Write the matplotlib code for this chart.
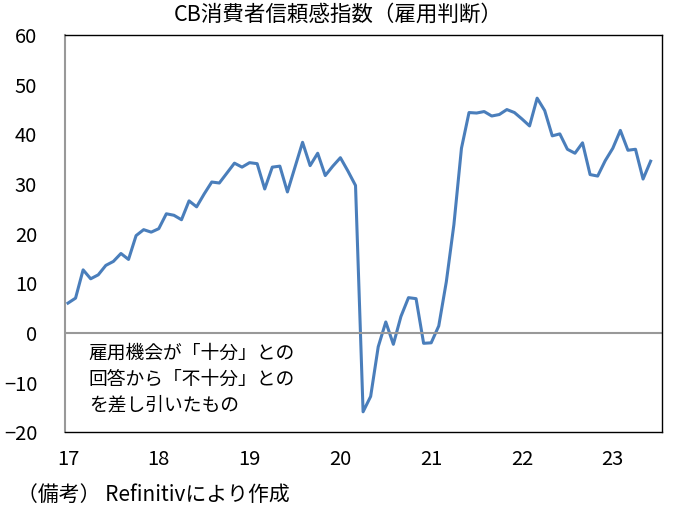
import matplotlib
matplotlib.use("Agg")
import matplotlib.pyplot as plt
import numpy as np

plt.rcParams['font.family'] = ['Noto Sans CJK JP', 'DejaVu Sans']

# CB consumer confidence, labor differential, monthly Jan 2017 - Jun 2023
values_2017 = [6.0, 7.0, 12.7, 10.9, 11.7, 13.6, 14.4, 16.0, 14.8, 19.6, 20.8, 20.3]
values_2018 = [21.0, 24.0, 23.7, 22.8, 26.6, 25.4, 28.0, 30.4, 30.2, 32.2, 34.2, 33.4]
values_2019 = [34.3, 34.1, 29.0, 33.4, 33.6, 28.4, 33.4, 38.4, 33.7, 36.2, 31.7, 33.6]
values_2020 = [35.3, 32.6, 29.7, -15.9, -12.8, -2.8, 2.2, -2.3, 3.3, 7.1, 6.9, -2.1]
values_2021 = [-2.0, 1.4, 10.3, 21.8, 37.2, 44.4, 44.3, 44.6, 43.7, 44.0, 45.0, 44.4]
values_2022 = [43.1, 41.7, 47.3, 44.8, 39.7, 40.1, 37.0, 36.2, 38.3, 31.9, 31.6, 34.7]
values_2023 = [37.2, 40.8, 36.8, 37.0, 31.0, 34.6]

values = (values_2017 + values_2018 + values_2019 + values_2020
          + values_2021 + values_2022 + values_2023)
year_labels = ['17', '18', '19', '20', '21', '22', '23']

fig = plt.figure(figsize=(6.91, 5.09), dpi=100)
ax = fig.add_axes([0.094, 0.151, 0.864, 0.780])

months = np.arange(len(values))
ax.plot(months, values, color='#4a7ebb', linewidth=2.2)
ax.axhline(0, color='#999999', linewidth=1.5)

ax.set_xlim(-0.4, 78.5)
ax.set_ylim(-20, 60)
ax.set_yticks(range(-20, 61, 10))
ax.set_xticks(np.arange(len(year_labels)) * 12)
ax.set_xticklabels(year_labels)
ax.tick_params(axis='both', length=0, labelsize=14.5)
ax.tick_params(axis='y', pad=20)
ax.tick_params(axis='x', pad=12)

ax.spines['left'].set_color('#999999')
ax.spines['left'].set_linewidth(1.5)
for s in ['top', 'right', 'bottom']:
    ax.spines[s].set_color('black')
    ax.spines[s].set_linewidth(1.0)

ax.text(0.04, 0.226, "雇用機会が「十分」との\n回答から「不十分」との\nを差し引いたもの",
        transform=ax.transAxes, fontsize=13.5, va='top', ha='left', linespacing=1.33)

fig.text(0.49, 0.972, "CB消費者信頼感指数（雇用判断）", ha='center', va='center', fontsize=15.5)
fig.text(0.025, 0.027, "（備考） Refinitivにより作成", ha='left', va='center', fontsize=15)

fig.savefig('out.png', dpi=100)
